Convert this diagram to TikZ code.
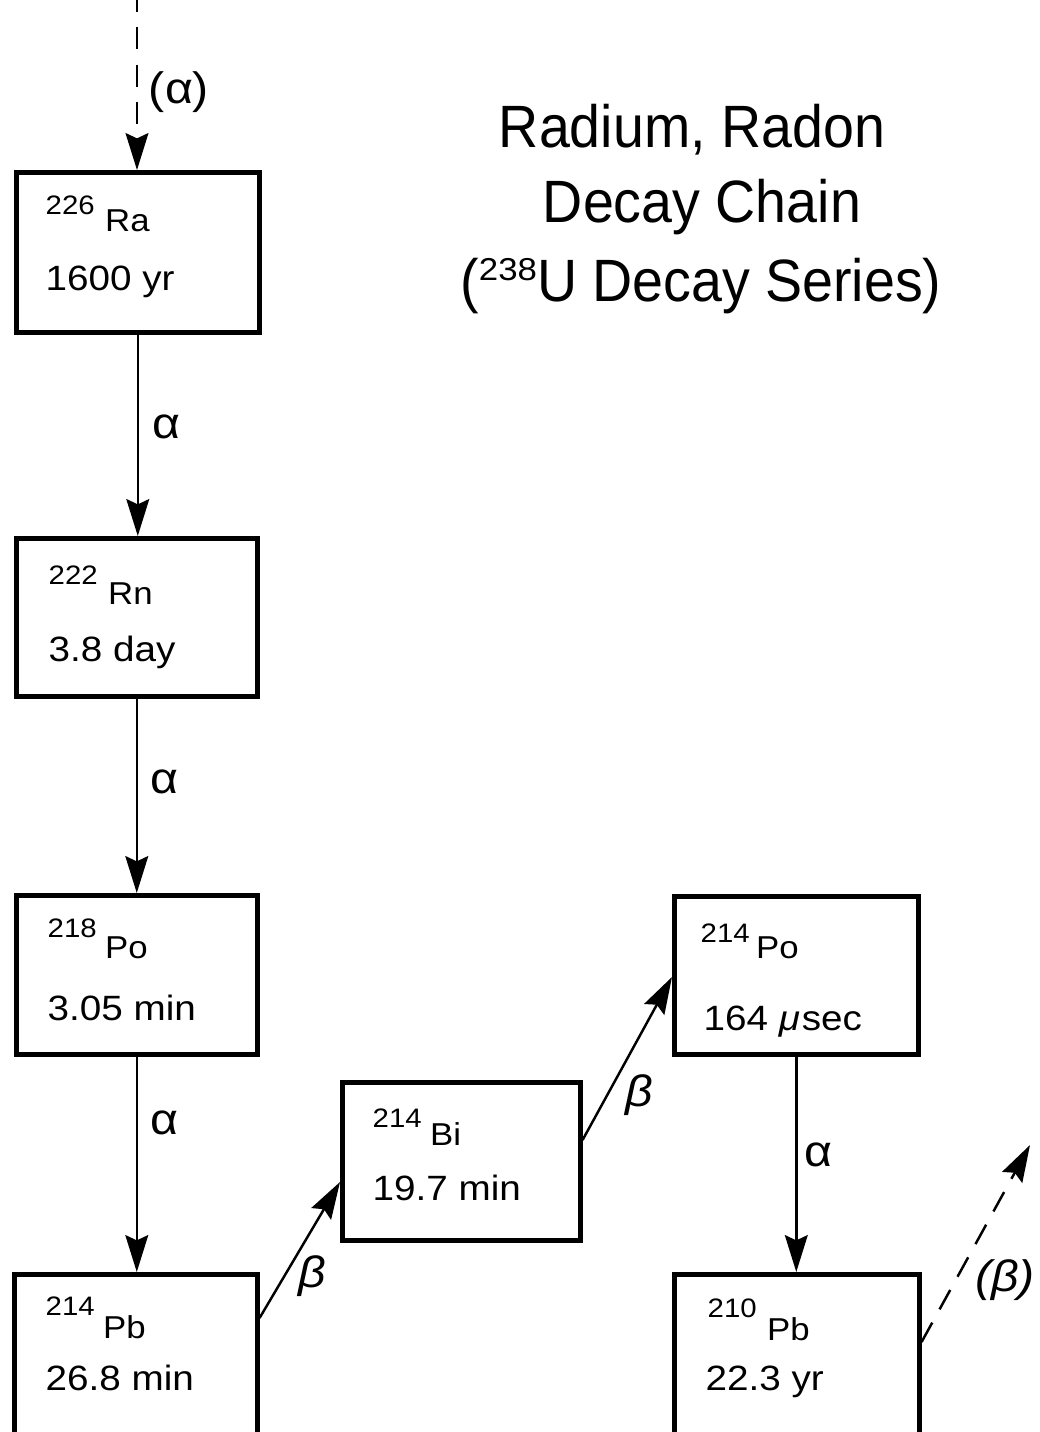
\documentclass[tikz,border=0pt]{standalone}
\usepackage{fontspec}
\setmainfont{Liberation Sans}
\newfontfamily\titlefont[FakeStretch=0.93]{Liberation Sans}
\newfontfamily\boxfont[FakeStretch=1.1]{Liberation Sans}
\usetikzlibrary{arrows.meta,calc}
\tikzset{
  nbox/.style={draw, line width=1.3pt, rectangle, inner sep=0pt, anchor=north west},
  flow/.style={line width=0.7pt, -{Stealth[length=10.5pt,width=6.5pt,inset=1.5pt]}},
  flowdash/.style={flow, dash pattern=on 6.3pt off 4.3pt},
  mass/.style={font=\boxfont\fontsize{7.6}{9}\selectfont, inner sep=0pt, anchor=base west},
  elem/.style={font=\boxfont\fontsize{9}{11}\selectfont, inner sep=0pt, anchor=base west},
  life/.style={font=\boxfont\fontsize{10}{12}\selectfont, inner sep=0pt, anchor=base west},
  alab/.style={font=\boxfont\fontsize{12.5}{14}\selectfont, inner sep=0pt},
  blab/.style={font=\boxfont\itshape\fontsize{12.5}{14}\selectfont, inner sep=0pt},
  ttl/.style={font=\titlefont\fontsize{17}{20}\selectfont, inner sep=0pt, anchor=base},
}
\begin{document}
\begin{tikzpicture}
\useasboundingbox (0,0) rectangle (10.39,-14.32);
\clip (0,0) rectangle (10.39,-14.32);

% title
\node[ttl] (t1) at (6.92,-1.48) {Radium, Radon};
\node[ttl] (t2) at (7.02,-2.23) {Decay Chain};
\node[ttl] (t3) at (7.01,-3.02) {(\raisebox{0.21cm}{\boxfont\fontsize{9}{11}\selectfont 238}U Decay Series)};

% boxes
\node[nbox, minimum width=2.43cm, minimum height=1.60cm] (ra) at (0.14,-1.70) {};
\node[nbox, minimum width=2.41cm, minimum height=1.58cm] (rn) at (0.14,-5.36) {};
\node[nbox, minimum width=2.41cm, minimum height=1.59cm] (po218) at (0.14,-8.93) {};
\node[nbox, minimum width=2.43cm, minimum height=1.75cm] (pb214) at (0.12,-12.72) {};
\node[nbox, minimum width=2.38cm, minimum height=1.58cm] (bi) at (3.40,-10.80) {};
\node[nbox, minimum width=2.44cm, minimum height=1.58cm] (po214) at (6.72,-8.94) {};
\node[nbox, minimum width=2.45cm, minimum height=1.75cm] (pb210) at (6.72,-12.72) {};

% box texts
\node[mass] (ra-m) at (0.45,-2.15) {226};
\node[elem] (ra-e) at ($(ra-m.base east)+(0.09,-0.17)$) {Ra};
\node[life] (ra-l) at (0.45,-2.90) {1600 yr};

\node[mass] (rn-m) at (0.48,-5.84) {222};
\node[elem] (rn-e) at ($(rn-m.base east)+(0.09,-0.20)$) {Rn};
\node[life] (rn-l) at (0.48,-6.61) {3.8 day};

\node[mass] (po218-m) at (0.47,-9.37) {218};
\node[elem] (po218-e) at ($(po218-m.base east)+(0.07,-0.21)$) {Po};
\node[life] (po218-l) at (0.47,-10.20) {3.05 min};

\node[mass] (pb214-m) at (0.45,-13.15) {214};
\node[elem] (pb214-e) at ($(pb214-m.base east)+(0.07,-0.23)$) {Pb};
\node[life] (pb214-l) at (0.45,-13.90) {26.8 min};

\node[mass] (bi-m) at (3.72,-11.27) {214};
\node[elem] (bi-e) at ($(bi-m.base east)+(0.07,-0.18)$) {Bi};
\node[life] (bi-l) at (3.72,-12.00) {19.7 min};

\node[mass] (po214-m) at (7.00,-9.42) {214};
\node[elem] (po214-e) at ($(po214-m.base east)+(0.05,-0.16)$) {Po};
\node[life] (po214-l) at (7.03,-10.30) {164 {\itshape μ}\kern0.5pt sec};

\node[mass] (pb210-m) at (7.07,-13.17) {210};
\node[elem] (pb210-e) at ($(pb210-m.base east)+(0.09,-0.23)$) {Pb};
\node[life] (pb210-l) at (7.05,-13.90) {22.3 yr};

% connectors
\coordinate (src) at (1.37,0.1);
\draw[flowdash] (src) -- (src |- ra.north);
\draw[flow] (ra.south) -- (ra.south |- rn.north);
\draw[flow] (rn.south) -- (rn.south |- po218.north);
\draw[flow] (po218.south) -- (po218.south |- pb214.north);
\draw[flow] ($(pb214.north east)+(0,-0.46)$) -- ($(bi.north west)+(0,-1.02)$);
\draw[flow] ($(bi.north east)+(0,-0.60)$) -- ($(po214.north west)+(0,-0.83)$);
\draw[flow] (po214.south) -- (po214.south |- pb210.north);
\coordinate (sink) at (10.30,-11.45);
\draw[flowdash] ($(pb210.north east)+(0,-0.70)$) -- (sink);

% labels
\node[alab] (l0) at (1.79,-0.92) {(α)};
\node[alab] (l1) at (1.66,-4.27) {α};
\node[alab] (l2) at (1.64,-7.82) {α};
\node[alab] (l3) at (1.64,-11.23) {α};
\node[alab] (l4) at (8.18,-11.55) {α};
\node[blab] (l5) at (3.12,-12.76) {β};
\node[blab] (l6) at (6.39,-10.95) {β};
\node[blab] (l7) at (10.05,-12.80) {(β)};
\end{tikzpicture}
\end{document}
